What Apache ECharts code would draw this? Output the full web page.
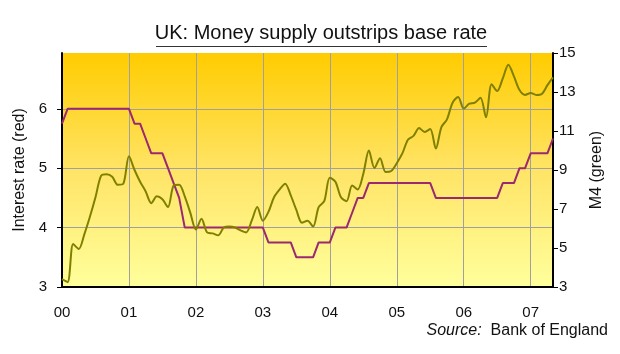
<!DOCTYPE html>
<html>
<head>
<meta charset="utf-8">
<title>UK: Money supply outstrips base rate</title>
<script src="https://cdn.jsdelivr.net/npm/echarts@6/dist/echarts.min.js"></script>
<style>
	html, body { margin: 0; padding: 0; background: #fff; }
	#chart { width: 620px; height: 354px; }
</style>
</head>
<body>
<div id="chart"></div>
<script>
	// 月份: 2000年1月 - 2007年5月
	var startYear = 2000;
	var monthCount = 89;
	var months = [];
	for (var i = 0; i < monthCount; i++) {
		var y = startYear + Math.floor(i / 12);
		var m = i % 12 + 1;
		months.push(y + '-' + (m < 10 ? '0' + m : m));
	}

	// 左轴刻度
	var rateTicks = [3, 4, 5, 6];

	// 基准利率 (左轴)
	var baseRate = [
		5.75, 6, 6, 6, 6, 6, 6, 6, 6, 6, 6, 6,
		6, 5.75, 5.75, 5.5, 5.25, 5.25, 5.25, 5, 4.75, 4.5, 4, 4,
		4, 4, 4, 4, 4, 4, 4, 4, 4, 4, 4, 4,
		4, 3.75, 3.75, 3.75, 3.75, 3.75, 3.5, 3.5, 3.5, 3.5, 3.75, 3.75,
		3.75, 4, 4, 4, 4.25, 4.5, 4.5, 4.75, 4.75, 4.75, 4.75, 4.75,
		4.75, 4.75, 4.75, 4.75, 4.75, 4.75, 4.75, 4.5, 4.5, 4.5, 4.5, 4.5,
		4.5, 4.5, 4.5, 4.5, 4.5, 4.5, 4.5, 4.75, 4.75, 4.75, 5, 5,
		5.25, 5.25, 5.25, 5.25, 5.5
	];

	// M4 增长 (右轴)
	var m4 = [
		3.4, 3.25, 5.2, 4.95, 5.7, 6.6, 7.6, 8.7, 8.78, 8.65, 8.24, 8.3,
		9.7, 9.0, 8.4, 7.9, 7.3, 7.65, 7.5, 7.1, 8.2, 8.25, 7.65, 6.8,
		5.95, 6.5, 5.8, 5.75, 5.65, 6.05, 6.1, 6.05, 5.9, 5.8, 6.4, 7.1,
		6.4, 6.85, 7.6, 8.0, 8.3, 7.7, 6.95, 6.3, 6.4, 6.1, 7.1, 7.4,
		8.6, 8.4, 7.6, 7.4, 8.2, 8.0, 8.8, 10.0, 9.1, 9.6, 8.9, 8.95,
		9.35, 9.85, 10.55, 10.75, 11.15, 10.95, 11.1, 10.1, 11.2, 11.6, 12.45, 12.75,
		12.15, 12.4, 12.45, 12.7, 11.7, 13.4, 13.05, 13.7, 14.4, 13.8, 13.1, 12.85,
		12.95, 12.85, 12.9, 13.35, 13.75
	];

	var font = '"Liberation Sans", Arial, sans-serif';

	var chart = echarts.init(document.getElementById('chart'), null, { renderer: 'canvas' });

	var option = {
		animation: false,
		backgroundColor: '#fff',
		textStyle: { fontFamily: font },
		// 标题 + 来源
		graphic: [
			{
				type: 'text',
				x: 321,
				y: 23,
				style: {
					text: 'UK: Money supply outstrips base rate',
					fill: '#111',
					font: '20px ' + font,
					textAlign: 'center',
					textVerticalAlign: 'top'
				}
			},
			{
				type: 'line',
				shape: { x1: 156, y1: 46.5, x2: 487, y2: 46.5 },
				style: { stroke: '#333', lineWidth: 1 }
			},
			{
				type: 'text',
				right: 12,
				top: 323,
				style: {
					text: '{i|Source:}  Bank of England',
					fill: '#111',
					font: '16px ' + font,
					rich: {
						i: { fontStyle: 'italic', fontSize: 16, fontFamily: font, fill: '#111' }
					}
				}
			}
		],
		grid: {
			left: 62,
			right: 67,
			top: 53,
			bottom: 67,
			show: true,
			borderWidth: 0,
			backgroundColor: new echarts.graphic.LinearGradient(0, 0, 0, 1, [
				{ offset: 0, color: '#ffcc00' },
				{ offset: 0.5, color: '#ffe466' },
				{ offset: 1, color: '#ffff9c' }
			])
		},
		xAxis: {
			type: 'category',
			data: months,
			boundaryGap: false,
			axisLine: { lineStyle: { color: '#000', width: 2 } },
			axisTick: { show: false },
			axisLabel: {
				interval: 11,
				margin: 18,
				color: '#111',
				fontSize: 15,
				formatter: function (v) {
					return v.slice(2, 4);
				}
			},
			splitLine: {
				show: true,
				interval: 11,
				lineStyle: { color: '#a0a0a0', width: 1 }
			}
		},
		yAxis: [
			{
				type: 'value',
				position: 'left',
				min: 3,
				max: 6.94,
				interval: 1,
				name: 'Interest rate (red)',
				nameLocation: 'middle',
				nameGap: 28,
				nameTextStyle: { color: '#111', fontSize: 16 },
				axisLine: { show: true, lineStyle: { color: '#000', width: 2 } },
				axisTick: { show: true, length: 5, customValues: rateTicks, lineStyle: { color: '#000' } },
				axisLabel: {
					margin: 15,
					color: '#111',
					fontSize: 15,
					customValues: rateTicks,
					formatter: function (v) {
						return Math.abs(v - Math.round(v)) < 1e-6 ? String(Math.round(v)) : '';
					}
				},
				splitLine: { lineStyle: { color: '#a0a0a0', width: 1 } }
			},
			{
				type: 'value',
				position: 'right',
				min: 3,
				max: 15,
				interval: 2,
				name: 'M4 (green)',
				nameLocation: 'middle',
				nameGap: 36,
				nameRotate: 90,
				nameTextStyle: { color: '#111', fontSize: 16 },
				axisLine: { show: true, lineStyle: { color: '#000', width: 2 } },
				axisTick: { show: true, length: 5, lineStyle: { color: '#000' } },
				axisLabel: { margin: 6, color: '#111', fontSize: 15 },
				splitLine: { show: false }
			}
		],
		series: [
			{
				name: 'Base rate',
				type: 'line',
				yAxisIndex: 0,
				data: baseRate,
				symbol: 'none',
				lineStyle: { color: '#9b2870', width: 2 }
			},
			{
				name: 'M4',
				type: 'line',
				yAxisIndex: 1,
				data: m4,
				symbol: 'none',
				smooth: 0.3,
				lineStyle: { color: '#808000', width: 2 }
			}
		]
	};

	chart.setOption(option);
</script>
</body>
</html>
